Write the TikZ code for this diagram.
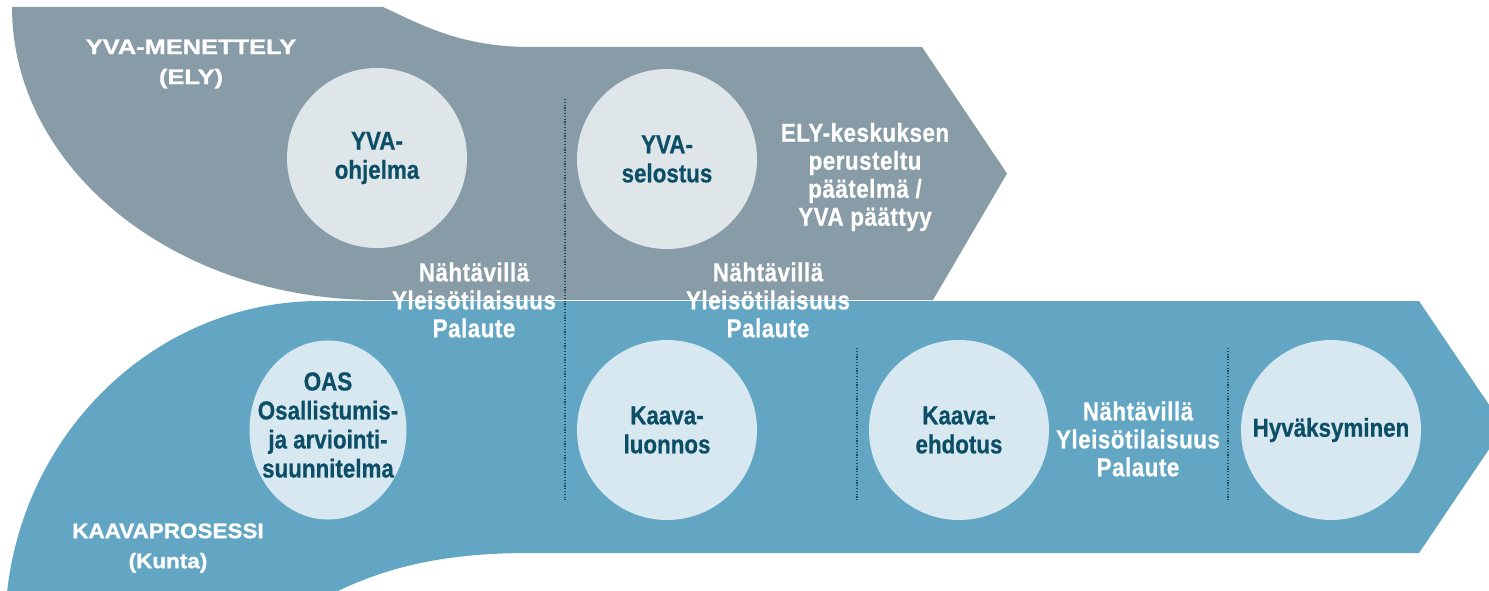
\documentclass[tikz,border=0pt]{standalone}
\usepackage{fontspec}
\usetikzlibrary{shapes.geometric}
\newfontfamily\condf{Liberation Sans}[FakeStretch=0.86,FakeBold=0.6]
\newfontfamily\condwf{Liberation Sans}[FakeStretch=0.86,FakeBold=0.6,LetterSpace=2]
\newfontfamily\wideA{Liberation Sans}[FakeStretch=1.21,FakeBold=1.2]
\newfontfamily\wideB{Liberation Sans}[FakeStretch=1.07,FakeBold=1.2]
\definecolor{bandgrey}{HTML}{889CA8}
\definecolor{bandblue}{HTML}{62A6C4}
\definecolor{circgrey}{HTML}{DFE6EA}
\definecolor{circblue}{HTML}{D7E8F1}
\definecolor{darktext}{HTML}{0C4E66}
\definecolor{dotcol}{HTML}{1E4F60}
\begin{document}
\begin{tikzpicture}[x=1pt,y=-1pt,
  stepcirc/.style={circle,minimum size=180pt,inner sep=0pt,align=center,
    text=darktext,font=\condf\bfseries\fontsize{26}{29}\selectfont},
  whitelab/.style={align=center,text=white,inner sep=0pt,
    font=\condwf\bfseries\fontsize{26}{28}\selectfont},
  titlelab/.style={align=center,text=white,inner sep=0pt},
  dotline/.style={draw=dotcol,line width=1.4pt,dash pattern=on 1.2pt off 1.6pt}]
\useasboundingbox (0,0) rectangle (1489,591);
\begin{scope}
\clip (0,0) rectangle (1489,591);
% grey band (YVA)
\fill[bandgrey] (12,7) -- (383,7) .. controls (420,24) and (460,47) .. (530,47)
  -- (922,47) -- (1007,173.5) -- (933,300) -- (377,300)
  .. controls (175.4,300) and (12,168.8) .. (12,7) -- cycle;
% blue band (Kaava)
\fill[bandblue] (320,301) -- (1419,301) -- (1504,427) -- (1419,553) -- (530,553)
  .. controls (440,553) and (380,568) .. (320,600) -- (320,640) -- (5,640) -- (5,630)
  .. controls (5,448.3) and (146,301) .. (320,301) -- cycle;
\end{scope}
% dotted separators
\draw[dotline] (565,99) -- (565,500);
\draw[dotline] (857,348) -- (857,500);
\draw[dotline] (1228,348) -- (1228,500);
% circles
\node[stepcirc,fill=circgrey] (yvaohj) at (377,158) {YVA-\\ohjelma};
\node[stepcirc,fill=circgrey] (yvasel) at (667,159) {YVA-\\selostus};
\node[stepcirc,fill=circblue,ellipse,minimum width=157pt,minimum height=179pt] (oas) at (328,430) {};
\node[stepcirc,fill=none,minimum size=0pt] (oastxt) at (328,425) {OAS\\Osallistumis-\\ja arviointi-\\suunnitelma};
\node[stepcirc,fill=circblue] (luon) at (667,430) {Kaava-\\luonnos};
\node[stepcirc,fill=circblue] (ehd) at (959,430) {Kaava-\\ehdotus};
\node[stepcirc,fill=circblue] (hyv) at (1331,430) {Hyväksyminen};
% labels
\node[titlelab,font=\wideA\bfseries\fontsize{21}{30}\selectfont] (yvatitle) at (191,64) {YVA-MENETTELY\\(ELY)};
\node[titlelab,font=\wideB\bfseries\fontsize{21}{30}\selectfont] (kaavatitle) at (168,548) {KAAVAPROSESSI\\(Kunta)};
\node[whitelab] (ely) at (865,177) {ELY-keskuksen\\perusteltu\\päätelmä /\\YVA päättyy};
\node[whitelab] (nah1) at (474,300) {Nähtävillä\\Yleisötilaisuus\\Palaute};
\node[whitelab] (nah2) at (768,300) {Nähtävillä\\Yleisötilaisuus\\Palaute};
\node[whitelab] (nah3) at (1138,439) {Nähtävillä\\Yleisötilaisuus\\Palaute};
\end{tikzpicture}
\end{document}
